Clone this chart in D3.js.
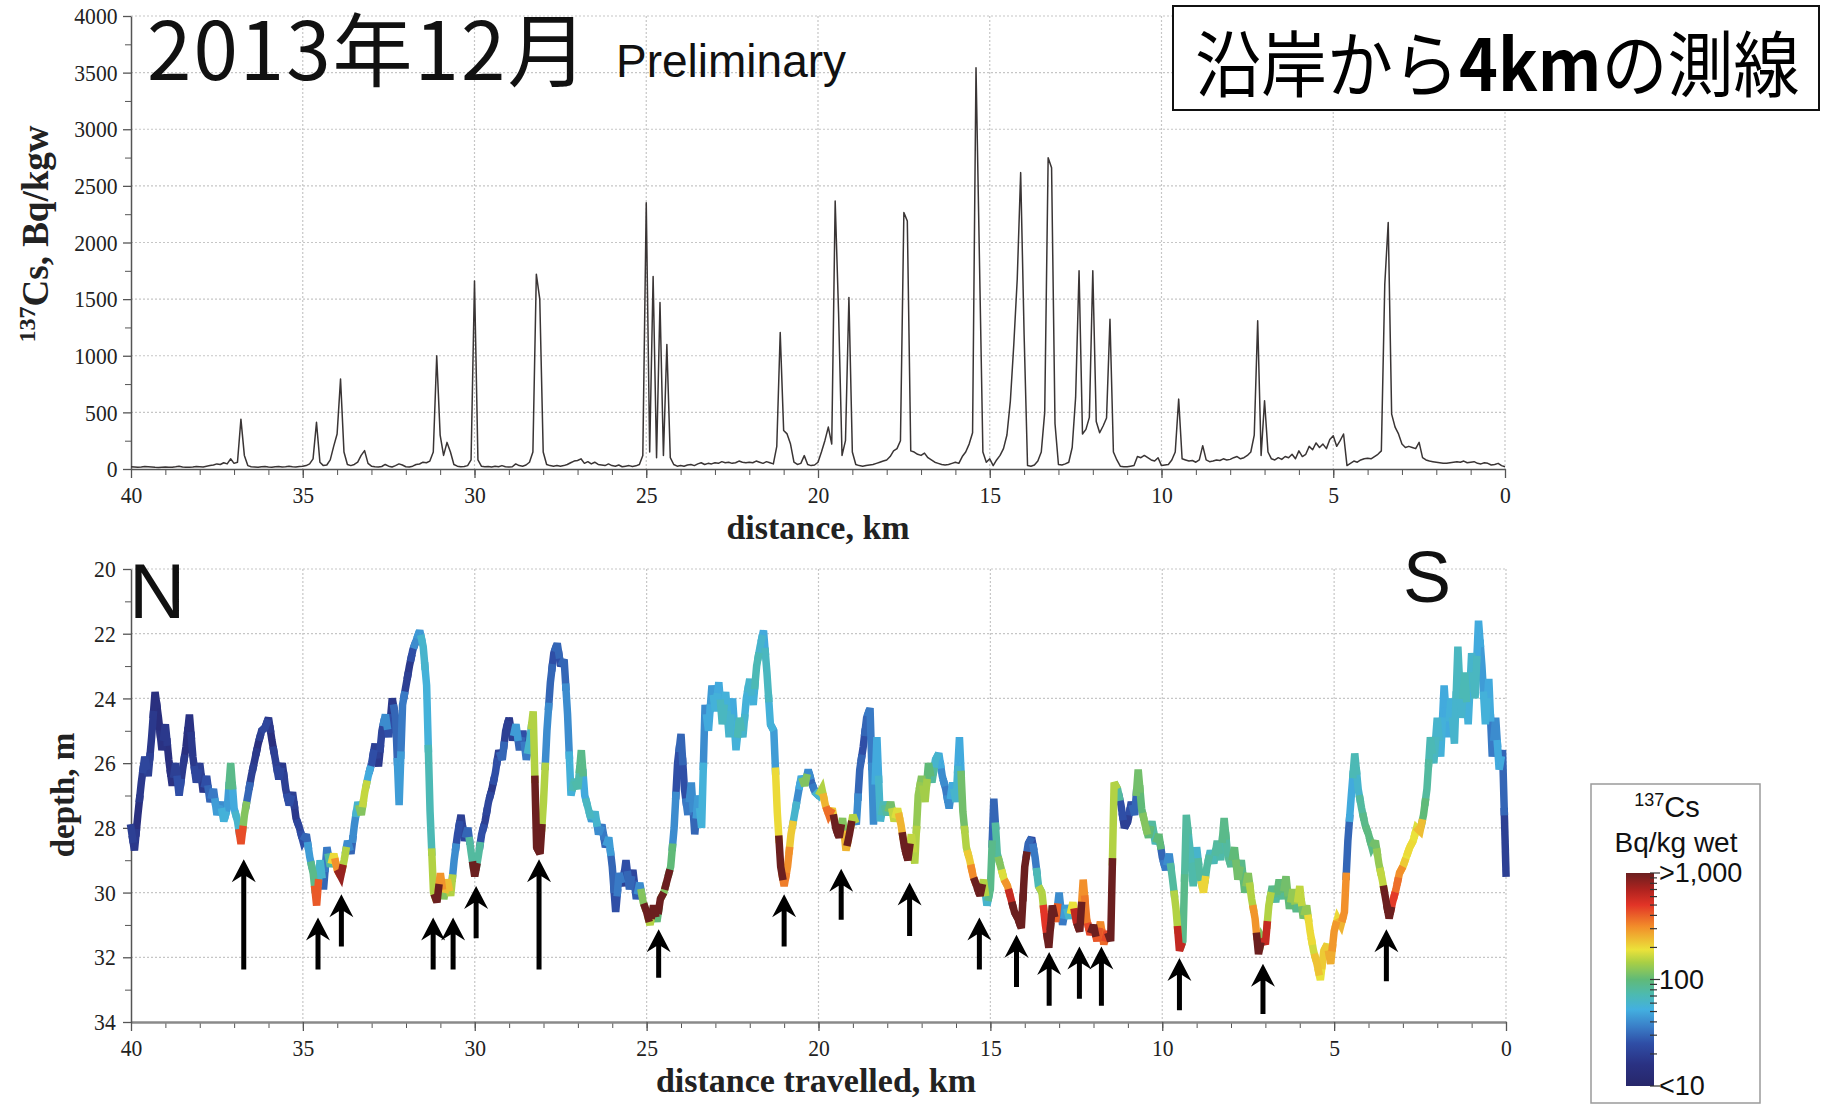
<!DOCTYPE html>
<html>
<head>
<meta charset="utf-8">
<script src="https://cdn.jsdelivr.net/npm/d3@7"></script>
<style>
  body { margin: 0; background: #fff; }
  svg { display: block; }
</style>
</head>
<body>
<svg id="chart" width="1821" height="1107"></svg>
<script>
// 137Cs along the track, one value every 0.1 km from 40 km down to 0 km
const cs = [
  20, 18, 15, 18, 22, 20, 18, 15, 14, 16,
  18, 15, 16, 20, 25, 18, 15, 16, 18, 22,
  20, 18, 25, 30, 35, 45, 40, 55, 45, 90,
  50, 60, 440, 120, 30, 20, 18, 15, 20, 22,
  18, 15, 20, 22, 18, 20, 25, 20, 18, 22,
  25, 30, 45, 90, 412, 60, 30, 35, 80, 200,
  309, 794, 150, 40, 30, 40, 60, 120, 162, 50,
  25, 20, 18, 22, 40, 25, 18, 30, 45, 35,
  20, 18, 25, 40, 44, 60, 55, 70, 150, 1000,
  300, 120, 235, 150, 40, 25, 20, 22, 30, 80,
  1660, 80, 25, 20, 22, 18, 25, 20, 30, 20,
  18, 20, 45, 30, 25, 35, 60, 150, 1720, 1500,
  150, 40, 30, 25, 30, 25, 30, 40, 55, 70,
  75, 90, 50, 65, 45, 60, 40, 35, 30, 45,
  30, 25, 35, 20, 25, 30, 22, 28, 40, 120,
  2350, 150, 1700, 100, 1470, 120, 1100, 100, 40, 25,
  30, 25, 35, 40, 30, 45, 55, 40, 50, 45,
  55, 50, 65, 55, 60, 50, 55, 70, 60, 55,
  60, 55, 70, 60, 50, 65, 55, 45, 200, 1205,
  340, 310, 220, 60, 40, 50, 118, 40, 30, 35,
  60, 150, 250, 370, 220, 2367, 1367, 120, 250, 1514,
  150, 40, 30, 25, 30, 35, 40, 50, 60, 70,
  80, 110, 160, 180, 250, 2264, 2190, 160, 150, 130,
  120, 140, 100, 80, 60, 50, 40, 35, 40, 50,
  60, 50, 110, 150, 220, 320, 3543, 1852, 150, 60,
  90, 30, 80, 120, 180, 300, 600, 1100, 1676, 2617,
  1190, 30, 25, 35, 70, 150, 500, 2749, 2660, 400,
  40, 35, 45, 60, 190, 632, 1750, 309, 350, 456,
  1750, 420, 320, 380, 450, 1323, 150, 80, 25, 20,
  20, 25, 30, 110, 100, 120, 100, 80, 70, 100,
  30, 35, 40, 80, 150, 617, 90, 80, 70, 75,
  60, 80, 206, 80, 65, 70, 80, 75, 90, 80,
  85, 100, 110, 90, 100, 120, 150, 300, 1308, 120,
  603, 150, 90, 80, 100, 85, 110, 100, 130, 90,
  160, 110, 130, 200, 170, 230, 190, 220, 180, 260,
  294, 200, 250, 309, 30, 50, 70, 60, 80, 90,
  95, 90, 110, 130, 160, 1630, 2176, 485, 370, 310,
  220, 190, 200, 190, 180, 235, 100, 80, 70, 65,
  60, 55, 50, 50, 55, 60, 65, 60, 70, 55,
  60, 65, 50, 45, 55, 50, 35, 40, 50, 30,
  20
];

// sea floor depth (m) at the same points
const depth = [
  28.0, 28.7, 27.6, 26.6, 25.8, 26.4, 25.2, 23.8, 24.6, 25.6,
  24.8, 25.9, 26.7, 26.0, 27.0, 26.2, 25.5, 24.5, 25.8, 26.6,
  26.0, 26.9, 26.4, 27.2, 26.8, 27.6, 27.2, 27.8, 27.4, 26.0,
  27.4, 27.8, 28.5, 27.6, 27.0, 26.4, 25.9, 25.4, 25.0, 24.9,
  24.6, 25.3, 25.9, 26.5, 26.0, 26.8, 27.3, 26.9, 27.7, 28.0,
  28.4, 28.2, 28.9, 29.4, 30.4, 29.0, 29.9, 28.6, 29.2, 28.8,
  29.3, 29.5, 29.0, 28.4, 28.8, 27.9, 27.2, 27.6, 26.9, 26.4,
  26.0, 25.4, 26.1, 25.0, 24.5, 25.2, 24.0, 24.6, 27.3, 24.2,
  23.6, 23.0, 22.5, 22.2, 21.9, 22.4, 23.6, 27.5, 30.0, 30.3,
  29.4, 30.2, 29.6, 30.1, 29.0, 28.2, 27.6, 28.4, 28.0, 28.8,
  29.5, 28.9, 28.2, 27.8, 27.2, 26.8, 26.3, 25.6, 25.9, 25.0,
  24.6, 25.3, 24.8, 25.6, 25.0, 25.9, 25.3, 24.4, 28.6, 28.8,
  27.2, 25.0, 23.5, 22.6, 22.3, 23.0, 22.8, 24.5, 27.0, 26.5,
  26.8, 25.6, 27.0, 27.4, 27.8, 27.5, 28.2, 27.9, 28.6, 28.3,
  29.2, 30.6, 29.4, 29.8, 29.0, 29.9, 29.3, 30.2, 29.7, 30.3,
  30.6, 31.0, 30.4, 30.9, 30.2, 30.0, 29.6, 29.2, 28.0, 26.0,
  25.1, 26.8, 27.6, 26.6, 28.2, 27.0, 28.0, 24.2, 25.0, 23.6,
  24.4, 23.5, 24.8, 23.8, 25.2, 24.0, 25.6, 24.6, 25.2, 24.0,
  23.4, 24.2, 23.0, 22.4, 21.9, 23.2, 24.8, 25.0, 27.5, 29.2,
  29.8, 29.2, 28.2, 27.6, 27.0, 26.4, 26.7, 26.2, 26.6, 26.9,
  27.0, 26.8, 27.3, 27.6, 27.4, 28.0, 28.3, 27.7, 28.7, 28.2,
  27.6, 27.9, 26.2, 25.5, 24.6, 24.3, 27.9, 25.2, 27.8, 27.2,
  27.6, 27.2, 27.8, 27.4, 27.9, 28.6, 29.0, 28.2, 29.1, 27.0,
  26.4, 27.2, 26.0, 26.6, 25.9, 25.7, 26.4, 26.8, 27.4, 26.6,
  27.2, 25.2, 27.5, 28.6, 29.0, 29.5, 29.8, 30.1, 29.6, 30.4,
  29.9, 27.1, 28.8, 29.2, 29.6, 29.8, 30.2, 30.6, 30.8, 31.1,
  29.2, 28.5, 28.3, 28.9, 29.8, 30.0, 31.0, 31.7, 30.4, 30.9,
  30.0, 31.0, 30.4, 30.8, 30.3, 30.9, 31.2, 29.6, 30.8, 31.3,
  31.0, 31.5, 30.9, 31.6, 31.2, 31.5, 26.6, 26.8, 27.3, 28.0,
  27.8, 27.2, 27.6, 26.2, 27.4, 27.9, 28.3, 27.8, 28.5, 28.2,
  28.9, 29.3, 28.8, 29.6, 30.5, 31.8, 31.5, 27.6, 28.6, 29.8,
  28.6, 29.5, 30.0, 29.2, 28.7, 29.1, 28.4, 29.0, 27.7, 28.8,
  29.2, 28.6, 29.6, 29.0, 30.0, 29.4, 30.2, 30.8, 31.9, 31.4,
  31.6, 30.4, 29.8, 30.3, 29.6, 30.2, 29.5, 30.5, 29.9, 30.6,
  29.8, 30.8, 30.4, 31.2, 31.8, 32.2, 32.7, 31.8, 31.6, 32.2,
  31.2, 30.8, 31.0, 30.6, 28.4, 27.0, 25.7, 26.8, 27.4, 27.9,
  28.2, 28.6, 28.4, 29.1, 29.6, 30.2, 30.8, 30.3, 29.9, 29.4,
  29.2, 28.9, 28.6, 28.4, 28.0, 28.1, 27.6, 26.8, 25.2, 26.0,
  24.6, 25.8, 23.6, 25.2, 24.0, 25.4, 22.4, 24.6, 23.2, 24.8,
  22.6, 24.0, 21.6, 23.0, 24.8, 23.4, 25.8, 24.6, 26.2, 25.6,
  29.4
];

// sample positions (km travelled)
const distKm = cs.map((d, i) => +(40 - i * 0.1).toFixed(1));

// arrows marking the hot spots: position, tip depth, tail depth
const arrowKm   = [36.72, 34.56, 33.88, 31.21, 30.63, 29.96, 28.13, 24.65, 21.0, 19.34, 17.35, 15.32, 14.24, 13.29, 12.41, 11.77, 9.5, 7.07, 3.48];
const arrowTip  = [28.97, 30.77, 30.05, 30.77, 30.77, 29.8, 28.97, 31.13, 30.05, 29.26, 29.69, 30.77, 31.3, 31.84, 31.67, 31.67, 32.02, 32.2, 31.13];
const arrowTail = [32.38, 32.38, 31.67, 32.38, 32.38, 31.41, 32.38, 32.63, 31.67, 30.84, 31.34, 32.38, 32.92, 33.5, 33.28, 33.5, 33.64, 33.75, 32.74];

const kmTicks = [40, 35, 30, 25, 20, 15, 10, 5, 0];
const csTicks = [0, 500, 1000, 1500, 2000, 2500, 3000, 3500, 4000];
const depthTicks = [20, 22, 24, 26, 28, 30, 32, 34];
const cbValues = [1000, 100, 10];
const cbLabels = [">1,000", "100", "<10"];

// colour map (position on log scale 10..1000 -> colour)
const cbStops  = [0, 0.1, 0.2, 0.28, 0.36, 0.43, 0.5, 0.58, 0.64, 0.75, 0.85, 0.92, 1];
const cbColors = ["#27276a", "#2a3182", "#2f4ea6", "#3a7fc8", "#43b0e0", "#4dbab0", "#60ba78", "#a9cf45", "#ebe23a", "#f28c2a", "#e23427", "#b0231f", "#6b1f1f"];

const svg = d3.select("#chart");
const serif = "'Liberation Serif', 'Times New Roman', serif";
const sans = "'Liberation Sans', Arial, sans-serif";

const xTop = d3.scaleLinear().domain([40, 0]).range([131, 1505]);
const yTop = d3.scaleLinear().domain([0, 4000]).range([469, 16]);
const xBot = d3.scaleLinear().domain([40, 0]).range([131, 1506]);
const yBot = d3.scaleLinear().domain([20, 34]).range([569, 1022]);
const tScale = d3.scaleLog().domain([10, 1000]).range([0, 1]).clamp(true);
const colorOf = d3.scaleLinear().domain(cbStops).range(cbColors).clamp(true);

function drawGrid(xs, ys, xVals, yVals) {
    const g = svg.append("g")
        .attr("stroke", "#c6c6c6")
        .attr("stroke-width", 1.2)
        .attr("stroke-dasharray", "2,2");
    g.selectAll(".v").data(xVals).join("line")
        .attr("x1", d => xs(d)).attr("x2", d => xs(d))
        .attr("y1", d3.min(ys.range())).attr("y2", d3.max(ys.range()));
    g.selectAll(".h").data(yVals).join("line")
        .attr("x1", xs.range()[0]).attr("x2", xs.range()[1])
        .attr("y1", d => ys(d)).attr("y2", d => ys(d));
}

function styleAxis(g, lineColor, lineWidth) {
    g.select(".domain").attr("stroke", lineColor).attr("stroke-width", lineWidth);
    g.selectAll(".tick line").attr("stroke", "#555").attr("stroke-width", 1.3);
    g.selectAll(".tick text")
        .attr("font-family", serif)
        .attr("font-size", 24)
        .attr("fill", "#222")
        .attr("transform", "scale(0.9,1)");
}

function minorTicks(axis, at) {
    svg.append("g").attr("transform", at)
        .call(axis.tickSize(6).tickFormat(""))
        .call(g => g.select(".domain").remove())
        .call(g => g.selectAll("line").attr("stroke", "#555"));
}

const intFmt = d3.format("d");

// ---------- top panel ----------
drawGrid(xTop, yTop, kmTicks.slice(1), csTicks.slice(1));

minorTicks(d3.axisBottom(xTop).tickValues(d3.range(0, 41)), "translate(0,469)");
minorTicks(d3.axisLeft(yTop).tickValues(d3.range(250, 4000, 500)), "translate(131,0)");

svg.append("g").attr("transform", "translate(0,469)")
    .call(d3.axisBottom(xTop).tickValues(kmTicks).tickFormat(intFmt).tickSize(9).tickPadding(8).tickSizeOuter(0))
    .call(g => styleAxis(g, "#555", 1.5));
svg.append("g").attr("transform", "translate(131,0)")
    .call(d3.axisLeft(yTop).tickValues(csTicks).tickFormat(intFmt).tickSize(8).tickPadding(7).tickSizeOuter(0))
    .call(g => styleAxis(g, "#555", 1.5));

const topLine = d3.line()
    .x((d, i) => xTop(distKm[i]))
    .y(d => yTop(d));
svg.append("path")
    .datum(cs)
    .attr("d", topLine)
    .attr("fill", "none")
    .attr("stroke", "#3a3535")
    .attr("stroke-width", 1.5)
    .attr("stroke-linejoin", "round");

svg.append("text")
    .attr("x", 818).attr("y", 539)
    .attr("text-anchor", "middle")
    .attr("font-family", serif).attr("font-weight", "bold").attr("font-size", 34)
    .attr("fill", "#222")
    .text("distance, km");

const yLab = svg.append("text")
    .attr("transform", "translate(48,234) rotate(-90)")
    .attr("text-anchor", "middle")
    .attr("font-family", serif).attr("font-weight", "bold").attr("font-size", 37)
    .attr("fill", "#222");
yLab.append("tspan").attr("font-size", 24).attr("dy", -13).text("137");
yLab.append("tspan").attr("dy", 13).text("Cs, Bq/kgw");

// title
const title = svg.append("text")
    .attr("x", 147).attr("y", 80)
    .attr("font-family", "'Noto Sans CJK JP', sans-serif")
    .attr("font-size", 80)
    .attr("letter-spacing", 2)
    .attr("fill", "#111");
title.append("tspan").text("2013年12月");
title.append("tspan")
    .attr("x", 616)
    .attr("font-family", sans)
    .attr("font-size", 46)
    .attr("letter-spacing", 0)
    .attr("dy", -3)
    .text("Preliminary");

svg.append("rect")
    .attr("x", 1173).attr("y", 6).attr("width", 646).attr("height", 104)
    .attr("fill", "#fff").attr("stroke", "#111").attr("stroke-width", 2);
const boxText = svg.append("text")
    .attr("transform", "translate(1195,91) scale(1,1.08)")
    .attr("font-family", "'Noto Sans CJK JP', sans-serif")
    .attr("font-size", 66)
    .attr("fill", "#000");
boxText.append("tspan").text("沿岸から");
boxText.append("tspan").attr("font-weight", "bold").text("4km");
boxText.append("tspan").text("の測線");

// ---------- bottom panel ----------
drawGrid(xBot, yBot, kmTicks.slice(1), depthTicks.slice(0, -1));

minorTicks(d3.axisBottom(xBot).tickValues(d3.range(0, 41)), "translate(0,1022)");
minorTicks(d3.axisLeft(yBot).tickValues(d3.range(21, 34, 2)), "translate(131,0)");

svg.append("g").attr("transform", "translate(0,1022)")
    .call(d3.axisBottom(xBot).tickValues(kmTicks).tickFormat(intFmt).tickSize(9).tickPadding(8).tickSizeOuter(0))
    .call(g => styleAxis(g, "#8a8a8a", 2.5));
svg.append("g").attr("transform", "translate(131,0)")
    .call(d3.axisLeft(yBot).tickValues(depthTicks).tickFormat(intFmt).tickSize(8).tickPadding(9).tickSizeOuter(0))
    .call(g => styleAxis(g, "#555", 1.5));

// coloured depth track: one piece per sample, hot samples drawn last
const pts = distKm.map((km, i) => [xBot(km), yBot(depth[i])]);
const pieces = pts.map((p, i) => {
    const a = pts[Math.max(i - 1, 0)], b = pts[Math.min(i + 1, pts.length - 1)];
    return {
        cs: cs[i],
        path: [[(a[0] + p[0]) / 2, (a[1] + p[1]) / 2], p, [(b[0] + p[0]) / 2, (b[1] + p[1]) / 2]]
    };
}).sort((a, b) => a.cs - b.cs);

svg.append("g").selectAll("path").data(pieces).join("path")
    .attr("d", d => d3.line()(d.path))
    .attr("fill", "none")
    .attr("stroke", d => colorOf(tScale(d.cs)))
    .attr("stroke-width", 7.5)
    .attr("stroke-linejoin", "miter")
    .attr("stroke-miterlimit", 3)
    .attr("stroke-linecap", "square");

// arrows
svg.append("g").selectAll("path").data(arrowKm).join("path")
    .attr("d", (d, i) => {
        const x = xBot(d), t = yBot(arrowTip[i]), b = yBot(arrowTail[i]);
        return `M${x},${t} L${x + 12},${t + 23} L${x + 2.5},${t + 17} L${x + 2.5},${b} ` +
               `L${x - 2.5},${b} L${x - 2.5},${t + 17} L${x - 12},${t + 23} Z`;
    })
    .attr("fill", "#000");

svg.append("text")
    .attr("x", 816).attr("y", 1092)
    .attr("text-anchor", "middle")
    .attr("font-family", serif).attr("font-weight", "bold").attr("font-size", 34)
    .attr("fill", "#222")
    .text("distance travelled, km");

svg.append("text")
    .attr("transform", "translate(74,795) rotate(-90)")
    .attr("text-anchor", "middle")
    .attr("font-family", serif).attr("font-weight", "bold").attr("font-size", 33)
    .attr("fill", "#222")
    .text("depth, m");

svg.append("text").attr("x", 129).attr("y", 618)
    .attr("font-family", sans).attr("font-size", 78).attr("fill", "#111").text("N");
svg.append("text").attr("x", 1403).attr("y", 602)
    .attr("font-family", sans).attr("font-size", 72).attr("fill", "#111").text("S");

// ---------- colour bar ----------
svg.append("rect")
    .attr("x", 1591).attr("y", 784).attr("width", 169).attr("height", 319)
    .attr("fill", "#fff").attr("stroke", "#9a9a9a").attr("stroke-width", 1.5);

const cbTitle = svg.append("text")
    .attr("x", 1667).attr("y", 817)
    .attr("text-anchor", "middle")
    .attr("font-family", sans).attr("font-size", 29).attr("fill", "#111");
cbTitle.append("tspan").attr("font-size", 18).attr("dy", -11).text("137");
cbTitle.append("tspan").attr("dy", 11).text("Cs");

svg.append("text")
    .attr("x", 1676).attr("y", 852)
    .attr("text-anchor", "middle")
    .attr("font-family", sans).attr("font-size", 28).attr("fill", "#111")
    .text("Bq/kg wet");

const grad = svg.append("defs").append("linearGradient")
    .attr("id", "cbGrad")
    .attr("x1", 0).attr("y1", 1).attr("x2", 0).attr("y2", 0);
grad.selectAll("stop").data(cbStops).join("stop")
    .attr("offset", d => d)
    .attr("stop-color", (d, i) => cbColors[i]);

const cbY = d3.scaleLog().domain([10, 1000]).range([1086, 873]);
svg.append("rect")
    .attr("x", 1626).attr("y", cbY(1000))
    .attr("width", 28).attr("height", cbY(10) - cbY(1000))
    .attr("fill", "url(#cbGrad)");

const cbTicks = d3.range(10, 100, 10).concat(d3.range(100, 1001, 100));
svg.append("g").selectAll("line").data(cbTicks).join("line")
    .attr("x1", 1650).attr("x2", d => [10, 100, 1000].includes(d) ? 1660 : 1657)
    .attr("y1", d => cbY(d)).attr("y2", d => cbY(d))
    .attr("stroke", "#333").attr("stroke-width", 1.2);

svg.append("g").selectAll("text").data(cbValues).join("text")
    .attr("x", 1659).attr("y", d => cbY(d) + 9)
    .attr("font-family", sans).attr("font-size", 27).attr("fill", "#111")
    .text((d, i) => cbLabels[i]);
</script>
</body>
</html>
